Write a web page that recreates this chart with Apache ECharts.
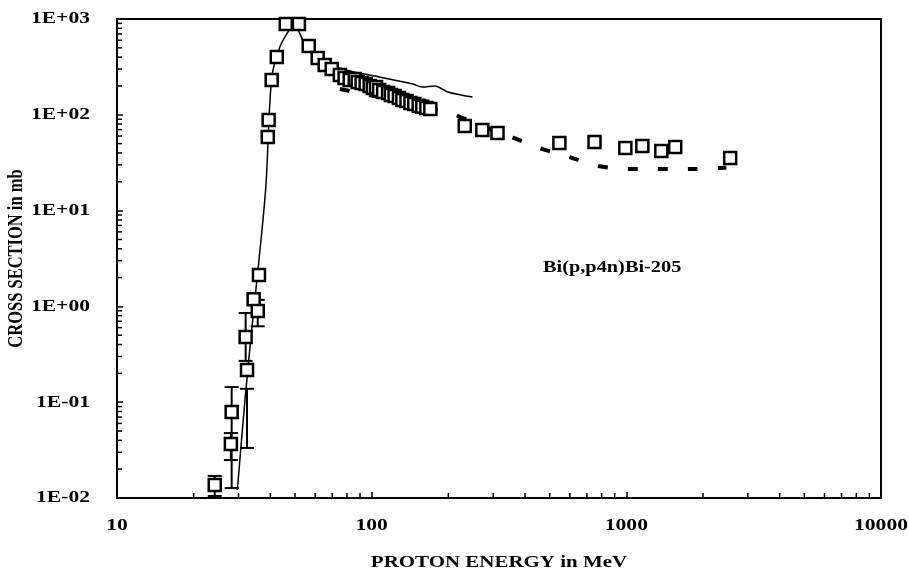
<!DOCTYPE html>
<html>
<head>
<meta charset="utf-8">
<script src="https://cdn.jsdelivr.net/npm/echarts@6/dist/echarts.min.js"></script>
<style>html,body{margin:0;padding:0;background:#fff}#c{width:909px;height:579px}</style>
</head>
<body>
<div id="c"></div>
<script>
// Experimental data (proton energy MeV, cross section mb)
const expE = [24.2, 28.0, 28.2, 32.4, 32.0, 34.4, 35.7, 36.1, 39.1, 39.4, 40.5, 42.4, 46.0, 51.8, 56.6, 61.4, 65.4, 69.7,
  75.0, 78.3, 82.0, 85.8, 88.1, 91.3, 94.7, 98.2, 101, 104, 107, 111, 116, 119, 123, 128, 132, 137, 142, 147, 153, 158, 164, 170,
  232, 272, 312, 546, 750, 991, 1156, 1372, 1556, 2557];
const expSigma = [0.0137, 0.0366, 0.079, 0.217, 0.48, 1.19, 0.895, 2.13, 58.6, 88, 231, 401, 887, 887, 523, 392, 331, 301,
  260, 242, 231, 236, 220, 215, 210, 200, 191, 195, 182, 173, 169, 161, 157, 150, 143, 139, 133, 130, 124, 121, 118, 115,
  76.4, 69.4, 64.6, 50.8, 52, 45, 47.2, 41.9, 46.1, 35.4];

// Error bars
const errE = [24.2, 28.0, 28.2, 32.4, 32.0, 35.7];
const errLo = [0.0105, 0.0249, 0.0127, 0.0333, 0.27, 0.62];
const errHi = [0.017, 0.0476, 0.144, 0.138, 0.853, 1.17];

// Solid calculation curve
const theoryE = [29.7, 31.8, 33.8, 36.1, 38.4, 40.5, 43.6, 46.9, 48.6, 50.8, 53.6, 57.1, 75, 107, 145, 158, 177, 199, 249];
const theorySigma = [0.0122, 0.105, 0.567, 3.05, 17.6, 242, 511, 731, 825, 806, 604, 453, 308, 248, 210, 195, 200, 173, 153];

// Dashed calculation curve
const dashE = [75, 202, 265, 354, 456, 598, 776, 1027, 1360, 1800, 2360, 2470];
const dashSigma = [186, 104, 78, 58.6, 45, 36.2, 29.2, 27.2, 27.2, 27.2, 27.9, 28.0];

// Axes and text
const xTickValues = [10, 100, 1000, 10000];
const xTickLabels = ['10', '100', '1000', '10000'];
const yTickValues = [0.01, 0.1, 1, 10, 100, 1000];
const yTickLabels = ['1E-02', '1E-01', '1E+00', '1E+01', '1E+02', '1E+03'];
const xTitle = 'PROTON ENERGY in MeV';
const yTitle = 'CROSS SECTION in mb';
const annotation = 'Bi(p,p4n)Bi-205';
const xMin = 10, xMax = 10000, yMin = 0.01, yMax = 1000;

const xMinor = [];
for (let d = xMin; d < xMax; d *= 10) for (let m = 2; m <= 9; m++) xMinor.push([d * m, yMin]);
const yMinor = [];
for (let d = yMin; d < yMax * 0.999; d *= 10) for (let m = 2; m <= 9; m++) yMinor.push([xMin, d * m]);

const FONT = '"Liberation Serif", "Times New Roman", serif';
const SX = 1.27; // horizontal stretch of the reference lettering
const chart = echarts.init(document.getElementById('c'), null, {renderer: 'canvas'});

chart.setOption({
  animation: false,
  backgroundColor: '#fff',
  grid: {left: 117, right: 28, top: 19, bottom: 81, show: true, borderColor: '#000', borderWidth: 2, backgroundColor: 'transparent'},
  xAxis: {
    type: 'log', logBase: 10, min: xMin, max: xMax,
    axisLine: {lineStyle: {color: '#000', width: 2}},
    axisTick: {inside: true, length: 6, lineStyle: {color: '#000', width: 1.5}},
    axisLabel: {show: false},
    splitLine: {show: false}
  },
  yAxis: {
    type: 'log', logBase: 10, min: yMin, max: yMax,
    axisLine: {lineStyle: {color: '#000', width: 2}},
    axisTick: {inside: true, length: 6, lineStyle: {color: '#000', width: 1.5}},
    axisLabel: {show: false},
    splitLine: {show: false}
  },
  series: [
    {
      type: 'custom', data: xMinor, silent: true, z: 1,
      renderItem: function (params, api) {
        const p = api.coord([api.value(0), api.value(1)]);
        return {type: 'line', shape: {x1: p[0], y1: p[1], x2: p[0], y2: p[1] - 5}, style: {stroke: '#000', lineWidth: 1.5}};
      }
    },
    {
      type: 'custom', data: yMinor, silent: true, z: 1,
      renderItem: function (params, api) {
        const p = api.coord([api.value(0), api.value(1)]);
        return {type: 'line', shape: {x1: p[0], y1: p[1], x2: p[0] + 5, y2: p[1]}, style: {stroke: '#000', lineWidth: 1.5}};
      }
    },
    {
      type: 'line', data: theoryE.map((e, i) => [e, theorySigma[i]]), symbol: 'none', smooth: 0.3, z: 2,
      lineStyle: {color: '#000', width: 1.5}
    },
    {
      type: 'line', data: dashE.map((e, i) => [e, dashSigma[i]]), symbol: 'none', smooth: 0.3, z: 2,
      lineStyle: {color: '#000', width: 4, type: [10, 20]}
    },
    {
      type: 'custom', z: 3, silent: true,
      data: errE.map((e, i) => [e, errLo[i], errHi[i]]),
      renderItem: function (params, api) {
        const lo = api.coord([api.value(0), api.value(1)]);
        const hi = api.coord([api.value(0), api.value(2)]);
        const w = 7;
        const st = {stroke: '#000', lineWidth: 2};
        return {type: 'group', children: [
          {type: 'line', shape: {x1: lo[0], y1: lo[1], x2: hi[0], y2: hi[1]}, style: st},
          {type: 'line', shape: {x1: lo[0] - w, y1: lo[1], x2: lo[0] + w, y2: lo[1]}, style: st},
          {type: 'line', shape: {x1: hi[0] - w, y1: hi[1], x2: hi[0] + w, y2: hi[1]}, style: st}
        ]};
      }
    },
    {
      type: 'scatter', data: expE.map((e, i) => [e, expSigma[i]]), symbol: 'rect', symbolSize: 12, z: 4,
      itemStyle: {color: '#fff', borderColor: '#000', borderWidth: 2.5, opacity: 1}
    }
  ]
});

// Text placed through the axis scales, stretched horizontally like the reference lettering
const measureCtx = document.createElement('canvas').getContext('2d');
function scaledWidth(text, font) { measureCtx.font = font; return measureCtx.measureText(text).width * SX; }
const g = [];
function txt(text, left, y, font) {
  return {type: 'text', x: left, y: y, scaleX: SX, style: {text: text, font: font, fill: '#000', align: 'left', verticalAlign: 'middle'}};
}
const tickFont = 'bold 17px ' + FONT;
xTickValues.forEach((v, i) => {
  const p = chart.convertToPixel({gridIndex: 0}, [v, yMin]);
  const w = scaledWidth(xTickLabels[i], tickFont);
  g.push(txt(xTickLabels[i], p[0] - w / 2, p[1] + 28, tickFont));
});
yTickValues.forEach((v, i) => {
  const p = chart.convertToPixel({gridIndex: 0}, [xMin, v]);
  const w = scaledWidth(yTickLabels[i], tickFont);
  g.push(txt(yTickLabels[i], p[0] - 27 - w, p[1], tickFont));
});
const pLB = chart.convertToPixel({gridIndex: 0}, [xMin, yMin]);
const pRT = chart.convertToPixel({gridIndex: 0}, [xMax, yMax]);
const titleFont = 'bold 16.5px ' + FONT;
const wxt = scaledWidth(xTitle, titleFont);
g.push(txt(xTitle, (pLB[0] + pRT[0]) / 2 - wxt / 2, pLB[1] + 65, titleFont));
g.push({
  type: 'text', x: 17, y: (pLB[1] + pRT[1]) / 2, rotation: Math.PI / 2, scaleY: SX,
  style: {text: yTitle, font: titleFont, fill: '#000', align: 'center', verticalAlign: 'middle'}
});
g.push(txt(annotation, 543, 268, 'bold 16px ' + FONT));
chart.setOption({graphic: g});
</script>
</body>
</html>
